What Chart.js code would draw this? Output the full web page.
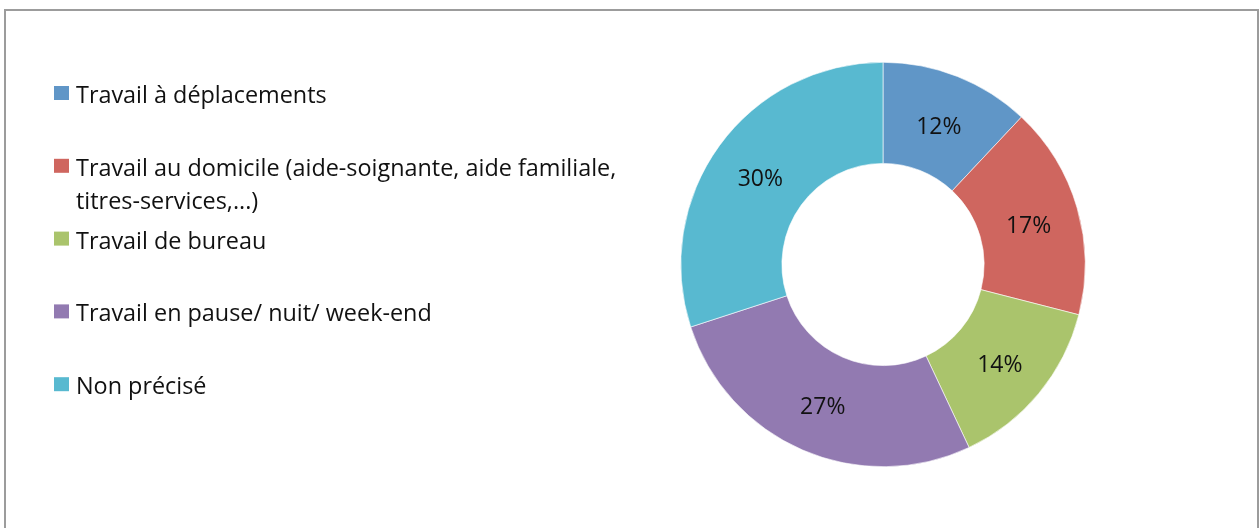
<!DOCTYPE html>
<html lang="fr">
<head>
<meta charset="utf-8">
<title>Répartition par type de travail</title>
<script src="https://cdn.jsdelivr.net/npm/chart.js@4.4.1/dist/chart.umd.min.js"></script>
<style>
  html, body { margin: 0; padding: 0; background: #fff; }
  #zone { position: relative; width: 1259px; height: 528px; }
</style>
</head>
<body>
<div id="zone"><canvas id="graphique" width="1259" height="528"></canvas></div>
<script>
// Catégories (le libellé long est coupé sur deux lignes)
const categories = [
  ["Travail à déplacements"],
  ["Travail au domicile (aide-soignante, aide familiale,", "titres-services,...)"],
  ["Travail de bureau"],
  ["Travail en pause/ nuit/ week-end"],
  ["Non précisé"]
];
// Pourcentages
const pourcentages = [12, 17, 14, 27, 30];
const couleurs = ["#6096c7", "#cf665f", "#aac46c", "#927ab1", "#58b9d0"];

const police = "'Open Sans', 'Noto Sans', sans-serif";

// Cadre gris autour du graphique
const cadre = {
  id: "cadre",
  beforeDraw(chart) {
    const ctx = chart.ctx;
    ctx.save();
    ctx.fillStyle = "#fff";
    ctx.fillRect(0, 0, chart.width, chart.height);
    ctx.strokeStyle = "#9c9c9c";
    ctx.lineWidth = 2;
    ctx.strokeRect(5, 10, 1253, 600);
    ctx.restore();
  }
};

// Légende à gauche, dessinée à la main pour gérer le retour à la ligne
const legendeGauche = {
  id: "legendeGauche",
  afterDraw(chart) {
    const ctx = chart.ctx;
    ctx.save();
    ctx.font = "23.4px " + police;
    ctx.textBaseline = "alphabetic";
    categories.forEach((lignes, i) => {
      const haut = 86 + 72.8 * i;
      ctx.fillStyle = couleurs[i];
      ctx.fillRect(54, haut, 15, 14);
      ctx.fillStyle = "#111";
      lignes.forEach((txt, j) => {
        ctx.fillText(txt, 76, haut + 17 + 33 * j);
      });
    });
    ctx.restore();
  }
};

// Valeurs en % au milieu de chaque part
const etiquettes = {
  id: "etiquettes",
  afterDatasetsDraw(chart) {
    const ctx = chart.ctx;
    const meta = chart.getDatasetMeta(0);
    ctx.save();
    ctx.font = "23px " + police;
    ctx.fillStyle = "#111";
    ctx.textAlign = "center";
    ctx.textBaseline = "middle";
    meta.data.forEach((arc, i) => {
      const pos = arc.tooltipPosition();
      ctx.fillText(pourcentages[i] + "%", pos.x, pos.y + 4);
    });
    ctx.restore();
  }
};

new Chart(document.getElementById("graphique"), {
  type: "doughnut",
  data: {
    labels: categories.map(l => l.join(" ")),
    datasets: [{
      data: pourcentages,
      backgroundColor: couleurs,
      borderColor: "#ffffff",
      borderWidth: 0.6
    }]
  },
  options: {
    responsive: false,
    animation: false,
    cutout: "50%",
    layout: { padding: { top: 62, bottom: 61, left: 680, right: 173 } },
    plugins: {
      legend: { display: false },
      tooltip: { enabled: false }
    }
  },
  plugins: [cadre, legendeGauche, etiquettes]
});
</script>
</body>
</html>
